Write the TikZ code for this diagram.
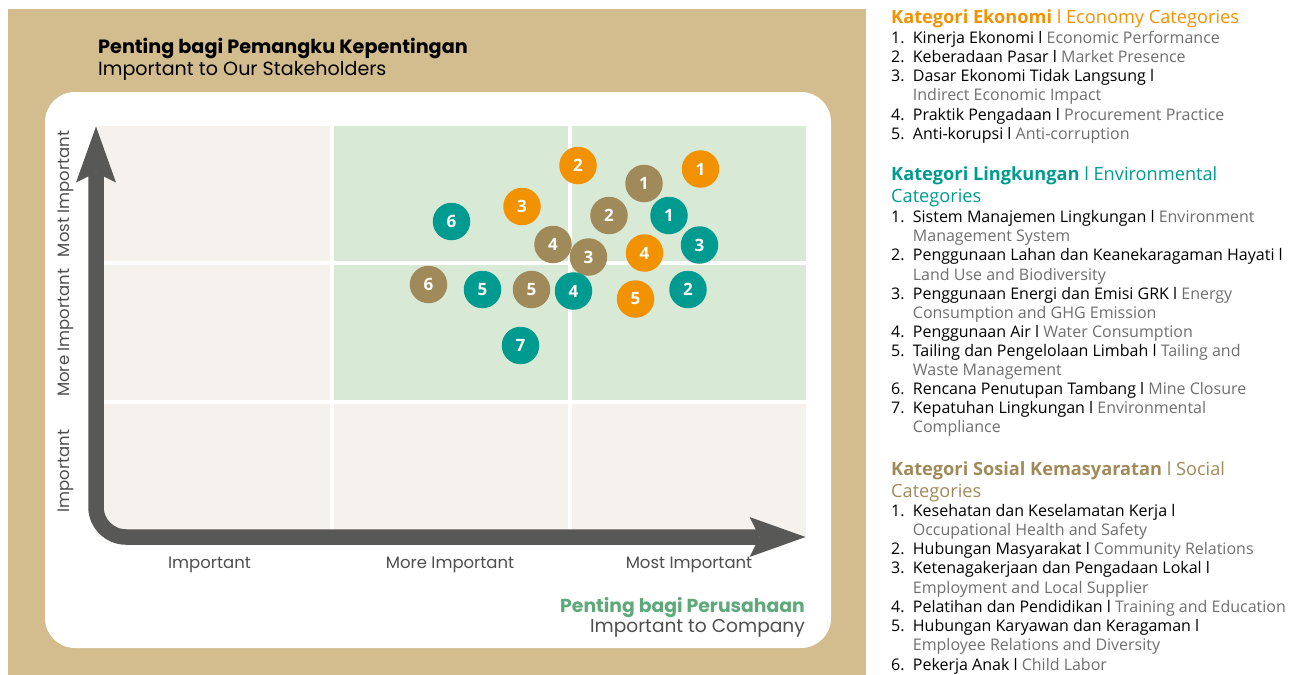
\documentclass[tikz,border=0pt]{standalone}
\usepackage{fontspec}
\setmainfont{Open Sans}
\newfontfamily\geofont{Poppins}
\usetikzlibrary{arrows.meta}
\usetikzlibrary{positioning}

\definecolor{sandbg}{HTML}{D3BC8D}
\definecolor{cellbeige}{HTML}{F5F2ED}
\definecolor{cellgreen}{HTML}{D8EAD5}
\definecolor{axisgrey}{HTML}{585857}
\definecolor{labgrey}{HTML}{4F4F4F}
\definecolor{ekoorange}{HTML}{F39200}
\definecolor{lingteal}{HTML}{009B90}
\definecolor{sosbrown}{HTML}{A08A5A}
\definecolor{compgreen}{HTML}{5DA979}
\definecolor{engrey}{HTML}{6F6F6F}

\newcommand{\numbox}[1]{\makebox[21.7pt][l]{#1}}
\newcommand{\entxt}[1]{\textcolor{engrey}{#1}}

\begin{document}
\begin{tikzpicture}[x=1pt,y=-1pt,
  bub/.style={circle,minimum size=37.5pt,inner sep=0pt,text=white,
    font=\fontsize{17}{17}\selectfont\bfseries},
  eko/.style={bub,fill=ekoorange},
  ling/.style={bub,fill=lingteal},
  sos/.style={bub,fill=sosbrown},
  axis/.style={draw=axisgrey,line width=15.5pt,rounded corners=30pt,
    {Stealth[length=56pt,width=40pt,inset=10pt,line width=0pt]}-{Stealth[length=56pt,width=40pt,inset=10pt,line width=0pt]}},
  ylab/.style={rotate=90,anchor=base,text=labgrey,font=\geofont\fontsize{16.5}{16.5}\selectfont},
  xlab/.style={anchor=base,text=labgrey,font=\geofont\fontsize{16.5}{16.5}\selectfont},
  item/.style={anchor=base west,inner sep=0pt,font=\fontsize{16}{19}\selectfont},
  head/.style={anchor=base west,inner sep=0pt,font=\fontsize{18.2}{22}\selectfont}]

\useasboundingbox (0,0) rectangle (1294,675);
\fill[sandbg] (8,9) rectangle (866,675);
\fill[white,rounded corners=30pt] (45,92) rectangle (831,648);

\foreach \xa/\xb in {96/330,334/568,572/806}
  \foreach \ya/\yb in {126/261,265/400,404/537}
    \fill[cellbeige] (\xa,\ya) rectangle (\xb,\yb);
\foreach \xa/\xb in {334/568,572/806}
  \foreach \ya/\yb in {126/261,265/400}
    \fill[cellgreen] (\xa,\ya) rectangle (\xb,\yb);

\coordinate (ytop) at (96,126.5);
\coordinate (orig) at (96,537);
\coordinate (xend) at (805.5,537);
\draw[axis] (ytop) -- (orig) -- (xend);

\node[ylab] (ymost) at (69.3,193.8) {Most Important};
\node[ylab] (ymore) at (69.3,332.7) {More Important};
\node[ylab] (yimp) at (69.3,471.3) {Important};
\node[xlab] (ximp) at (209.5,568) {Important};
\node[xlab] (xmore) at (450,568) {More Important};
\node[xlab] (xmost) at (689,568) {Most Important};

\node[anchor=base west,inner sep=0pt,font=\geofont\bfseries\fontsize{19.2}{19.2}\selectfont] (sttitle) at (98,53.5) {Penting bagi Pemangku Kepentingan};
\node[anchor=base west,inner sep=0pt,font=\geofont\fontsize{19.1}{19.1}\selectfont] (stsub) at (98,75.3) {Important to Our Stakeholders};
\node[anchor=base east,inner sep=0pt,text=compgreen,font=\geofont\bfseries\fontsize{18.8}{18.8}\selectfont] (cotitle) at (805,612.7) {Penting bagi Perusahaan};
\node[anchor=base east,inner sep=0pt,text=labgrey,font=\geofont\fontsize{18.6}{18.6}\selectfont] (cosub) at (805,632.7) {Important to Company};

\foreach \n/\x/\y in {6/428.5/284.5,5/531.5/289.5,4/553/244.5,3/588.5/257,2/609/215.5,1/644/183.5}
  \node[sos] (s\n) at (\x,\y) {\n};
\foreach \n/\x/\y in {1/669/215.5,2/688/289.5,3/699.5/245,4/573.5/291,5/482.5/289.5,6/451.5/221.5,7/520.5/345.5}
  \node[ling] (l\n) at (\x,\y) {\n};
\foreach \n/\x/\y in {1/700.5/169,2/578/165.5,3/522/206.5,4/644.5/253,5/635.5/299}
  \node[eko] (e\n) at (\x,\y) {\n};

\node[head,text=ekoorange] (ekohead) at (891,23.3) {\textbf{Kategori Ekonomi} l Economy Categories};
\foreach \ln [count=\i] in {
  {\numbox{1.}Kinerja Ekonomi l \entxt{Economic Performance}},
  {\numbox{2.}Keberadaan Pasar l \entxt{Market Presence}},
  {\numbox{3.}Dasar Ekonomi Tidak Langsung l},
  {\numbox{}\entxt{Indirect Economic Impact}},
  {\numbox{4.}Praktik Pengadaan l \entxt{Procurement Practice}},
  {\numbox{5.}Anti-korupsi l \entxt{Anti-corruption}}}
  \node[item] (eko\i) at (891,{43.3+19.2*(\i-1)}) {\ln};

\node[head,text=lingteal] (linghead) at (891,180) {\textbf{Kategori Lingkungan} l Environmental};
\node[head,text=lingteal] (linghead2) at (891,202.7) {Categories};
\foreach \ln [count=\i] in {
  {\numbox{1.}Sistem Manajemen Lingkungan l \entxt{Environment}},
  {\numbox{}\entxt{Management System}},
  {\numbox{2.}Penggunaan Lahan dan Keanekaragaman Hayati l},
  {\numbox{}\entxt{Land Use and Biodiversity}},
  {\numbox{3.}Penggunaan Energi dan Emisi GRK l \entxt{Energy}},
  {\numbox{}\entxt{Consumption and GHG Emission}},
  {\numbox{4.}Penggunaan Air l \entxt{Water Consumption}},
  {\numbox{5.}Tailing dan Pengelolaan Limbah l \entxt{Tailing and}},
  {\numbox{}\entxt{Waste Management}},
  {\numbox{6.}Rencana Penutupan Tambang l \entxt{Mine Closure}},
  {\numbox{7.}Kepatuhan Lingkungan l \entxt{Environmental}},
  {\numbox{}\entxt{Compliance}}}
  \node[item] (ling\i) at (891,{222.7+19.1*(\i-1)}) {\ln};

\node[head,text=sosbrown] (soshead) at (891,475) {\textbf{Kategori Sosial Kemasyaratan} l Social};
\node[head,text=sosbrown] (soshead2) at (891,497.3) {Categories};
\foreach \ln [count=\i] in {
  {\numbox{1.}Kesehatan dan Keselamatan Kerja l},
  {\numbox{}\entxt{Occupational Health and Safety}},
  {\numbox{2.}Hubungan Masyarakat l \entxt{Community Relations}},
  {\numbox{3.}Ketenagakerjaan dan Pengadaan Lokal l},
  {\numbox{}\entxt{Employment and Local Supplier}},
  {\numbox{4.}Pelatihan dan Pendidikan l \entxt{Training and Education}},
  {\numbox{5.}Hubungan Karyawan dan Keragaman l},
  {\numbox{}\entxt{Employee Relations and Diversity}},
  {\numbox{6.}Pekerja Anak l \entxt{Child Labor}}}
  \node[item] (sos\i) at (891,{516+19.25*(\i-1)}) {\ln};
\end{tikzpicture}
\end{document}
